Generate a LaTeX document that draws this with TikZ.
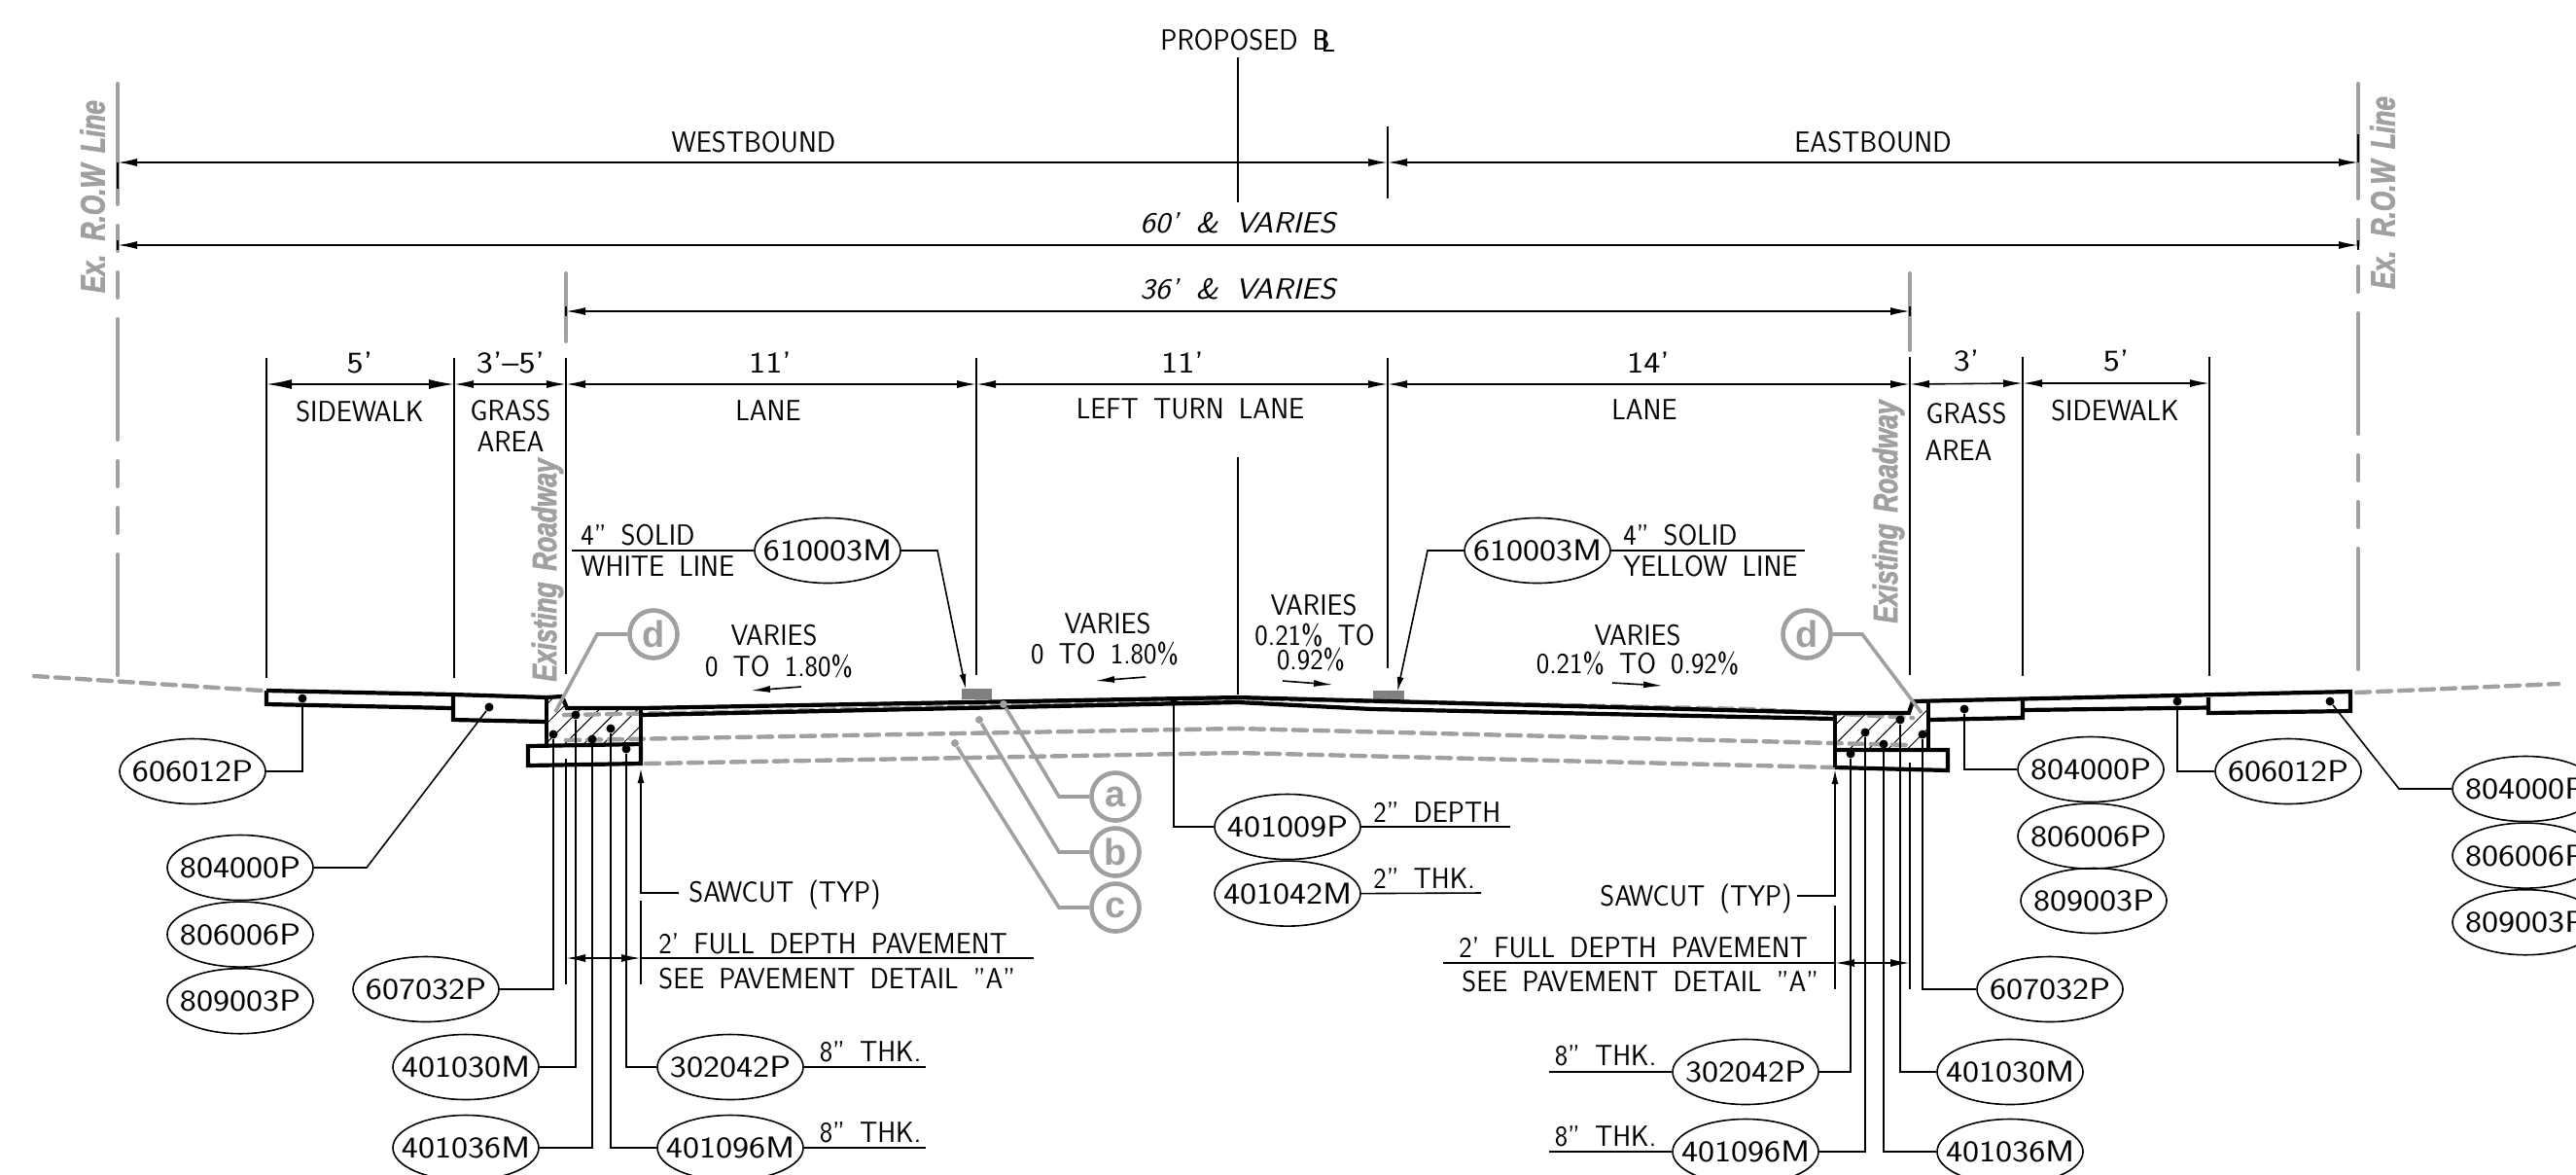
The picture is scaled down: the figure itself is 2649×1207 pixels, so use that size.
\documentclass[tikz,border=0pt]{standalone}
\usepackage{fontspec}
\setmainfont{Latin Modern Sans}[FakeStretch=0.95,WordSpace=1.7]
\newfontfamily\payfont{Latin Modern Sans}[FakeStretch=1.17,Ligatures=TeX]
\newfontfamily\italfont{Latin Modern Sans}[FakeStretch=1.1,WordSpace=1.7,Ligatures=TeX]
\newfontfamily\greyfont{Liberation Sans Bold Italic}[FakeStretch=0.75,WordSpace=1.6,FakeBold=2]
\newfontfamily\callfont{Liberation Sans Bold}
\usetikzlibrary{positioning, arrows.meta, shapes.geometric, patterns.meta}
\definecolor{rowgrey}{HTML}{A0A0A0}
\definecolor{markgrey}{HTML}{808080}
\newcommand{\clmark}{\rlap{B}\kern4.5pt\raisebox{-1pt}{L}}

\begin{document}
\begin{tikzpicture}[
		x=0.5pt, y=-0.5pt,
		>={Latex[length=10pt,width=4pt]},
		lbl/.style={inner sep=0pt, text height=10.4pt, text depth=0pt, font=\fontsize{15}{15}\selectfont},
		lblw/.style={lbl, anchor=west},
		dimtxt/.style={lbl, font=\fontsize{15.5}{15.5}\payfont},
		ital/.style={lbl, font=\fontsize{15}{15}\italfont\itshape},
		paynode/.style={draw, ellipse, line width=0.8pt, inner xsep=-8pt, inner ysep=0pt, minimum width=75pt, minimum height=33.5pt, font=\fontsize{15.5}{15.5}\payfont},
		grouser/.style={inner sep=0pt, rotate=90, text=rowgrey, font=\fontsize{17.5}{17.5}\greyfont},
		bubble/.style={draw=rowgrey, circle, line width=2.3pt, minimum size=24.5pt, inner sep=0pt, text=rowgrey, font=\fontsize{19}{19}\callfont},
		greylead/.style={draw=rowgrey, line width=1.8pt},
		greydot/.style={fill=rowgrey, circle, inner sep=0pt, minimum size=4pt},
		pdot/.style={fill=black, circle, inner sep=0pt, minimum size=4.5pt},
		lead/.style={line width=0.8pt},
		leadarrow/.style={lead, -{Latex[length=7.5pt,width=3.5pt]}},
		tick/.style={line width=0.7pt},
		dimline/.style={<->, line width=0.8pt},
		bigdim/.style={line width=0.8pt, {Latex[length=13pt,width=5pt]}-{Latex[length=13pt,width=5pt]}},
		slopearrow/.style={line width=0.8pt, -{Latex[length=10pt,width=3.5pt]}},
		rowline/.style={draw=rowgrey, line width=2pt, line cap=round},
		exline/.style={draw=rowgrey, line width=2.2pt, line cap=round, dash pattern=on 7pt off 4pt},
		road/.style={line width=2.1pt, line join=miter},
	]

	\path[use as bounding box, clip] (0,0) rectangle (2649,1207);

	% right of way and existing roadway limits
	\draw[rowline, dash pattern=on 62pt off 11pt on 13pt off 11pt on 13pt off 11pt] (121,86) -- (121,699);
	\draw[rowline, dash pattern=on 62pt off 11pt on 13pt off 11pt on 13pt off 11pt, dash phase=3pt] (2425,86) -- (2425,689);
	\draw[rowline] (582,281) -- (582,351);
	\draw[rowline] (1964,281) -- (1964,360);
	\node[grouser] (rowl) at (95,202) {Ex. R.O.W Line};
	\node[grouser] (rowr) at (2450,198) {Ex. R.O.W Line};
	\node[grouser] (exrl) at (563,586) {Existing Roadway};
	\node[grouser] (exrr) at (1942,526) {Existing Roadway};

	% top dimensions
	\node[lblw] (prop) at (1193,41) {PROPOSED \clmark};
	\node[lbl] (west) at (775,146) {WESTBOUND};
	\node[lbl] (east) at (1926,146) {EASTBOUND};
	\node[ital] (w60) at (1273,229) {60' \& VARIES};
	\node[ital] (w36) at (1273,297) {36' \& VARIES};

	\draw[tick] (1273,59) -- (1273,208);
	\draw[tick] (1427,130) -- (1427,204);
	\draw[tick] (121,167) -- (121,194);
	\draw[tick] (2425,138) -- (2425,167);
	\draw[tick] (121,247) -- (121,257);
	\draw[tick] (2425,247) -- (2425,257);
	\draw[tick] (582,315) -- (582,325);
	\draw[tick] (1964,315) -- (1964,325);

	\coordinate (ra) at (121,167);
	\coordinate (rb) at (1427,167);
	\coordinate (rc) at (2425,167);
	\coordinate (sa) at (121,252);
	\coordinate (sb) at (2425,252);
	\coordinate (ta) at (582,320);
	\coordinate (tb) at (1964,320);
	\draw[dimline] (ra) -- (rb);
	\draw[dimline] (rb) -- (rc);
	\draw[dimline] (sa) -- (sb);
	\draw[dimline] (ta) -- (tb);

	% lane dimensions
	\draw[tick] (274,368) -- (274,697);
	\draw[tick] (467,368) -- (467,697);
	\draw[tick] (582,368) -- (582,693);
	\draw[tick] (1004,368) -- (1004,694);
	\draw[tick] (1427,368) -- (1427,687);
	\draw[tick] (1964,367) -- (1964,694);
	\draw[tick] (2080,367) -- (2080,695);
	\draw[tick] (2272,367) -- (2272,695);
	\draw[tick] (1273,470) -- (1273,714);

	\coordinate (la) at (274,395);
	\coordinate (lb) at (467,395);
	\coordinate (lc) at (582,395);
	\coordinate (ld) at (1004,395);
	\coordinate (le) at (1427,395);
	\coordinate (lf) at (1964,395);
	\coordinate (lg) at (2080,394);
	\coordinate (lh) at (2272,394);
	\draw[bigdim] (la) -- (lb);
	\draw[dimline] (lb) -- (lc);
	\draw[dimline] (lc) -- (ld);
	\draw[dimline] (ld) -- (le);
	\draw[dimline] (le) -- (lf);
	\draw[dimline] (lf) -- (lg);
	\draw[dimline] (lg) -- (lh);

	\node[dimtxt] (d5l) at (370,373) {5'};
	\node[dimtxt] (d35) at (525,373) {3'--5'};
	\node[dimtxt] (d11a) at (792,373) {11'};
	\node[dimtxt] (d11b) at (1216,373) {11'};
	\node[dimtxt] (d14) at (1695,373) {14'};
	\node[dimtxt] (d3) at (2022,371) {3'};
	\node[dimtxt] (d5r) at (2176,371) {5'};
	\node[lbl] (swl) at (370,423) {SIDEWALK};
	\node[lbl] (gal) at (525,422) {GRASS};
	\node[lbl] (aal) at (525,454) {AREA};
	\node[lbl] (lanea) at (790,422) {LANE};
	\node[lbl] (ltl) at (1224,420) {LEFT TURN LANE};
	\node[lbl] (laneb) at (1691,421) {LANE};
	\node[lbl] (gar) at (2022,425) {GRASS};
	\node[lbl] (aar) at (2014,463) {AREA};
	\node[lbl] (swr) at (2175,422) {SIDEWALK};

	% curb hatching and pavement marks
	\path[pattern={Lines[angle=45,distance=7pt,line width=0.5pt]}] (562,717) -- (578,716) -- (583,728) -- (659,728) -- (659,765) -- (562,767) -- cycle;
	\path[pattern={Lines[angle=45,distance=7pt,line width=0.5pt]}] (1887,736) -- (1963,733) -- (1967,721) -- (1983,720) -- (1983,771) -- (1887,771) -- cycle;
	\fill[markgrey] (989,708) rectangle (1020,719);
	\fill[markgrey] (1412,710) rectangle (1444,722);

	% existing ground
	\draw[exline] (35,695) -- (270,710);
	\draw[exline] (2423,712) -- (2631,703);
	\draw[exline] (580,735) -- (800,731) -- (1273,718) -- (1800,729) -- (1967,738);
	\draw[exline] (582,761) -- (1273,749) -- (1967,766);
	\draw[exline] (664,785) -- (1273,774) -- (1887,789);

	% proposed section
	\draw[road] (274,710) -- (466,714) -- (562,717) -- (578,716) -- (583,728) -- (658,728) -- (1273,717) -- (1888,733) -- (1963,733) -- (1967,721) -- (2417,711) -- (2417,731) -- (2271,733) -- (2271,717);
	\draw[road] (274,710) -- (274,724) -- (466,728);
	\draw[road] (466,714) -- (466,740) -- (562,742);
	\draw[road] (562,717) -- (562,767);
	\draw[road] (659,728) -- (659,767);
	\draw[road] (543,767) -- (659,765) -- (659,785) -- (543,787) -- cycle;
	\draw[road] (659,735) -- (1273,722) -- (1411,729) -- (1888,739);
	\draw[road] (1887,733) -- (1887,789);
	\draw[road] (1887,771) -- (2003,771) -- (2003,792) -- (1887,789);
	\draw[road] (1983,720) -- (1983,771);
	\draw[road] (1983,740) -- (2080,738) -- (2080,720);
	\draw[road] (2080,730) -- (2271,727.5);

	% grey call outs
	\node[bubble] (cald) at (672,652) {d};
	\node[bubble] (carg) at (1858,652) {d};
	\node[bubble] (cala) at (1147,819) {a};
	\node[bubble] (calb) at (1147,876) {b};
	\node[bubble] (calc) at (1147,933) {c};
	\node[greydot] (pa) at (1032,724) {};
	\node[greydot] (pb) at (1007,740) {};
	\node[greydot] (pc) at (982,764) {};
	\coordinate (pd) at (571,732);
	\coordinate (pe) at (1976,733);
	\draw[greylead] (cald.west) -- (614,652) -- (pd);
	\draw[greylead] (carg.east) -- (1915,652) -- (pe);
	\draw[greylead] (cala.west) -- (1089,819) -- (pa);
	\draw[greylead] (calb.west) -- (1089,876) -- (pb);
	\draw[greylead] (calc.west) -- (1089,933) -- (pc);

	% slopes
	\node[lbl] (va) at (796,653) {VARIES};
	\node[lbl] (vat) at (801,685) {0 TO 1.80\%};
	\node[lbl] (vb) at (1139,641) {VARIES};
	\node[lbl] (vbt) at (1136,672) {0 TO 1.80\%};
	\node[lbl] (vc) at (1351,622) {VARIES};
	\node[lbl] (vct) at (1352,653) {0.21\% TO};
	\node[lbl] (vcu) at (1348,678) {0.92\%};
	\node[lbl] (vd) at (1684,653) {VARIES};
	\node[lbl] (vdt) at (1684,682) {0.21\% TO 0.92\%};
	\coordinate (saa) at (824,706);
	\coordinate (sab) at (772,710);
	\coordinate (sba) at (1178,696);
	\coordinate (sbb) at (1126,700);
	\coordinate (sca) at (1319,700);
	\coordinate (scb) at (1371,704);
	\coordinate (sda) at (1658,702);
	\coordinate (sdb) at (1710,705);
	\draw[slopearrow] (saa) -- (sab);
	\draw[slopearrow] (sba) -- (sbb);
	\draw[slopearrow] (sca) -- (scb);
	\draw[slopearrow] (sda) -- (sdb);

	% pavement marking
	\node[paynode] (mkl) at (851,566) {610003M};
	\node[paynode] (mkr) at (1581,566) {610003M};
	\node[lblw] (mla) at (597,550) {4'' SOLID};
	\node[lblw] (mlb) at (597,582) {WHITE LINE};
	\node[lblw] (mra) at (1669,550) {4'' SOLID};
	\node[lblw] (mrb) at (1669,582) {YELLOW LINE};
	\coordinate (mlend) at (588,566);
	\coordinate (mrend) at (1856,566);
	\coordinate (mlp) at (993,708);
	\coordinate (mrp) at (1437,711);
	\draw[lead] (mlend) -- (mkl.west);
	\draw[lead] (mkr.east) -- (mrend);
	\draw[leadarrow] (mkl.east) -- (964,566) -- (mlp);
	\draw[leadarrow] (mkr.west) -- (1468,566) -- (mrp);

	% left pay items
	\node[pdot] (lp606) at (311,718) {};
	\node[pdot] (lp804) at (503,727) {};
	\node[pdot] (lp607) at (569,755) {};
	\node[pdot] (lp030) at (592,735) {};
	\node[pdot] (lp036) at (609,760) {};
	\node[pdot] (lp096) at (628,749) {};
	\node[pdot] (lp042) at (644,770) {};

	\node[paynode] (la606) at (198,793) {606012P};
	\node[paynode] (la804) at (247,892) {804000P};
	\node[paynode, below=0pt of la804] (la806) {806006P};
	\node[paynode, below=0pt of la806] (la809) {809003P};
	\node[paynode] (la607) at (438,1017) {607032P};
	\node[paynode] (la030) at (479,1097) {401030M};
	\node[paynode] (la036) at (479,1180) {401036M};
	\node[paynode] (la302) at (751,1097) {302042P};
	\node[paynode] (la096) at (751,1180) {401096M};

	\draw[lead] (la606.east) -| (lp606);
	\draw[lead] (la804.east) -- (377,892) -- (lp804);
	\draw[lead] (la607.east) -| (lp607);
	\draw[lead] (la030.east) -| (lp030);
	\draw[lead] (la036.east) -| (lp036);
	\draw[lead] (la302.west) -| (lp042);
	\draw[lead] (la096.west) -| (lp096);

	\coordinate (tla) at (952,1097);
	\coordinate (tlb) at (952,1180);
	\draw[lead] (la302.east) -- (tla);
	\draw[lead] (la096.east) -- (tlb);
	\node[lbl] (ta8) at (895,1081) {8'' THK.};
	\node[lbl] (tb8) at (895,1164) {8'' THK.};

	% left sawcut
	\coordinate (swla) at (659,918);
	\coordinate (swlb) at (659,790);
	\coordinate (swlc) at (698,918);
	\draw[leadarrow] (swlc) -- (swla) -- (swlb);
	\node[lblw] (swtl) at (708,917) {SAWCUT (TYP)};
	\draw[tick] (582,780) -- (582,1012);
	\draw[tick] (659,926) -- (659,1012);
	\coordinate (fla) at (582,985);
	\coordinate (flb) at (659,985);
	\coordinate (flc) at (1063,985);
	\draw[dimline] (fla) -- (flb);
	\draw[lead] (flb) -- (flc);
	\node[lblw] (fdl) at (677,970) {2' FULL DEPTH PAVEMENT};
	\node[lblw] (fsl) at (677,1006) {SEE PAVEMENT DETAIL ''A''};

	% center pay items
	\node[pdot, minimum size=3.5pt] (cp401) at (1207,720) {};
	\node[paynode] (ce009) at (1324,850) {401009P};
	\node[paynode, below=0pt of ce009] (ce042) {401042M};
	\coordinate (cea) at (1553,850);
	\coordinate (ceb) at (1523,918);
	\draw[lead] (ce009.west) -| (cp401);
	\draw[lead] (ce009.east) -- (cea);
	\draw[lead] (ce042.east) -- (ceb);
	\node[lblw] (ced) at (1412,835) {2'' DEPTH};
	\node[lblw] (cet) at (1412,903) {2'' THK.};

	% right pay items
	\node[pdot] (rp042) at (1903,775) {};
	\node[pdot] (rp096) at (1918,753) {};
	\node[pdot] (rp036) at (1937,765) {};
	\node[pdot] (rp030) at (1954,740) {};
	\node[pdot] (rp607) at (1977,755) {};
	\node[pdot] (rp804) at (2020,729) {};
	\node[pdot] (rp606) at (2239,721) {};
	\node[pdot] (rq804) at (2396,721) {};

	\node[paynode] (ra302) at (1795,1102) {302042P};
	\node[paynode] (ra096) at (1795,1184) {401096M};
	\node[paynode] (ra030) at (2067,1102) {401030M};
	\node[paynode] (ra036) at (2067,1184) {401036M};
	\node[paynode] (ra607) at (2108,1017) {607032P};
	\node[paynode] (ra804) at (2150,791) {804000P};
	\node[paynode, below=0pt of ra804] (ra806) {806006P};
	\node[paynode] (ra809) at (2153,926) {809003P};
	\node[paynode] (ra606) at (2353,793) {606012P};
	\node[paynode] (rb804) at (2597,811) {804000P};
	\node[paynode, below=0pt of rb804] (rb806) {806006P};
	\node[paynode, below=0pt of rb806] (rb809) {809003P};

	\draw[lead] (ra302.east) -| (rp042);
	\draw[lead] (ra096.east) -| (rp096);
	\draw[lead] (ra030.west) -| (rp030);
	\draw[lead] (ra036.west) -| (rp036);
	\draw[lead] (ra607.west) -| (rp607);
	\draw[lead] (ra804.west) -| (rp804);
	\draw[lead] (ra606.west) -| (rp606);
	\draw[lead] (rb804.west) -- (2467,811) -- (rq804);

	\coordinate (tra) at (1593,1102);
	\coordinate (trb) at (1593,1184);
	\draw[lead] (tra) -- (ra302.west);
	\draw[lead] (trb) -- (ra096.west);
	\node[lbl] (tc8) at (1651,1085) {8'' THK.};
	\node[lbl] (td8) at (1651,1168) {8'' THK.};

	% right sawcut
	\coordinate (swra) at (1887,921);
	\coordinate (swrb) at (1887,791);
	\coordinate (swrc) at (1848,921);
	\draw[leadarrow] (swrc) -- (swra) -- (swrb);
	\node[lblw] (swtr) at (1645,921) {SAWCUT (TYP)};
	\draw[tick] (1887,931) -- (1887,1017);
	\draw[tick] (1964,784) -- (1964,1017);
	\coordinate (fra) at (1887,990);
	\coordinate (frb) at (1964,990);
	\coordinate (frc) at (1484,990);
	\draw[dimline] (fra) -- (frb);
	\draw[lead] (frc) -- (fra);
	\node[lblw] (fdr) at (1500,974) {2' FULL DEPTH PAVEMENT};
	\node[lblw] (fsr) at (1503,1009) {SEE PAVEMENT DETAIL ''A''};
\end{tikzpicture}
\end{document}
